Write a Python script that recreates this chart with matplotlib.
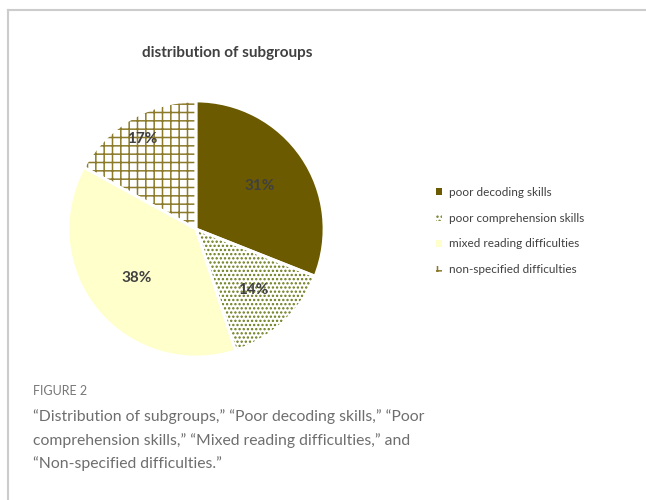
import numpy as np
import matplotlib.pyplot as plt
from matplotlib.lines import Line2D

# subgroup shares (percent)
groups = ['poor decoding skills', 'poor comprehension skills',
          'mixed reading difficulties', 'non-specified difficulties']
shares = [31, 14, 38, 17]

face_colors = ['#6b5a00', 'white', '#ffffcc', 'white']
hatch_colors = ['#6b5a00', '#6b7a1a', '#ffffcc', '#8b7a2a']
hatches = [None, '....', None, '++']
label_dist = [0.6, 0.65, 0.6, 0.82]

caption_lines = ['\u201cDistribution of subgroups,\u201d \u201cPoor decoding skills,\u201d \u201cPoor',
                 'comprehension skills,\u201d \u201cMixed reading difficulties,\u201d and',
                 '\u201cNon-specified difficulties.\u201d']

plt.rcParams['font.family'] = ['Lato', 'DejaVu Sans']
plt.rcParams['hatch.linewidth'] = 1.1

fig = plt.figure(figsize=(6.46, 5.0), dpi=100)

# grey frame along top and left edges
fig.add_artist(Line2D([8 / 646, 8 / 646], [0, 490 / 500], color='#cccccc', lw=1.5))
fig.add_artist(Line2D([8 / 646, 1], [490 / 500, 490 / 500], color='#cccccc', lw=1.5))

ax = fig.add_axes([36 / 646, 111 / 500, 320 / 646, 320 / 500])
wedges, texts, autotexts = ax.pie(
    shares, startangle=90, counterclock=False,
    autopct='%d%%', pctdistance=0.6,
    wedgeprops=dict(linewidth=0),
    textprops=dict(color='#404040', fontsize=11, fontweight='bold'))

for w, fc, hc, h in zip(wedges, face_colors, hatch_colors, hatches):
    w.set_facecolor(fc)
    w.set_edgecolor(hc)
    w.set_linewidth(0)
    if h:
        w.set_hatch(h)

# move percentage labels along each wedge's mid-angle
for w, t, d in zip(wedges, autotexts, label_dist):
    ang = np.deg2rad((w.theta1 + w.theta2) / 2)
    t.set_position((d * np.cos(ang), d * np.sin(ang)))

# white separators between slices
ax.pie(shares, startangle=90, counterclock=False,
       wedgeprops=dict(facecolor='none', edgecolor='white', linewidth=2))
ax.set_xlim(-1.25, 1.25)
ax.set_ylim(-1.25, 1.25)

fig.text(227 / 646, 1 - 53 / 500, 'distribution of subgroups', ha='center', va='center',
         fontsize=11, fontweight='bold', color='#404040')

leg = fig.legend(wedges, groups, loc='center left', bbox_to_anchor=(425 / 646, 1 - 231 / 500),
                 frameon=False, fontsize=8.5, handlelength=0.5, handleheight=0.5,
                 handletextpad=0.6, labelspacing=1.25)
for t in leg.get_texts():
    t.set_color('#404040')

fig.text(33 / 646, 1 - 391 / 500, 'FIGURE 2', ha='left', va='center',
         fontsize=9, color='#777777')
for i, line in enumerate(caption_lines):
    fig.text(33 / 646, 1 - (417 + i * 23.5) / 500, line, ha='left', va='center',
             fontsize=11.3, color='#6e6e6e')

fig.savefig('out.png', dpi=100)
